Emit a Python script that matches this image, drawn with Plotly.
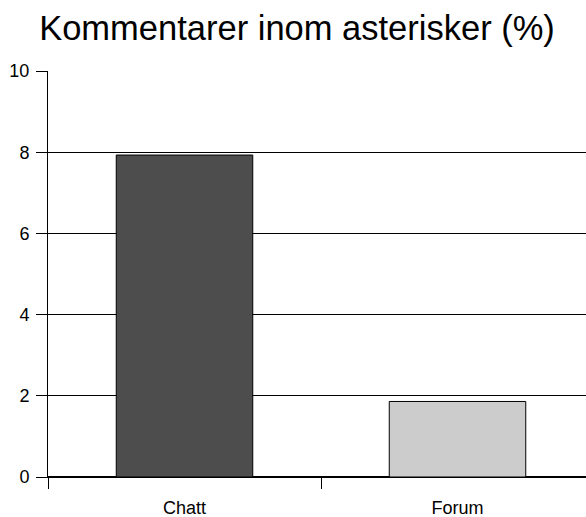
import plotly.graph_objects as go

categories = ["Chatt", "Forum"]
values = [7.93, 1.86]
bar_colors = ["#4d4d4d", "#cccccc"]
y_ticks = [0, 2, 4, 6, 8, 10]

fig = go.Figure()
fig.add_trace(go.Bar(
    x=categories, y=values, width=0.5,
    marker=dict(color=bar_colors, line=dict(color="#000000", width=1)),
    showlegend=False, hoverinfo="skip",
))

fig.update_layout(
    width=586, height=517,
    margin=dict(l=48, r=0, t=71, b=40),
    paper_bgcolor="white", plot_bgcolor="white",
    font=dict(family="Liberation Sans, Arial, sans-serif", color="#000000"),
    title=dict(text="Kommentarer inom asterisker (%)", x=297 / 586, xanchor="center",
               y=1 - 28 / 517, yanchor="middle", yref="container",
               font=dict(size=34.5, color="#000000")),
)
fig.update_xaxes(
    type="category", range=[-0.5, 1.4707],
    tickson="boundaries", ticks="outside", ticklen=11, tickcolor="#000000",
    showline=True, linecolor="#000000", linewidth=1,
    tickfont=dict(size=18), showgrid=False, ticklabelstandoff=14,
)
fig.update_yaxes(
    range=[0, 10], tickvals=y_ticks, ticks="outside", ticklen=11, tickcolor="#000000",
    showline=True, linecolor="#000000", linewidth=1,
    showgrid=True, gridcolor="#000000", gridwidth=1,
    zeroline=True, zerolinecolor="#000000",
    tickfont=dict(size=18), ticklabelstandoff=3,
)
fig.write_html(
    "out.html",
    config={"displayModeBar": False},
    post_script="document.body.style.margin='0';document.body.style.overflow='hidden';",
)
